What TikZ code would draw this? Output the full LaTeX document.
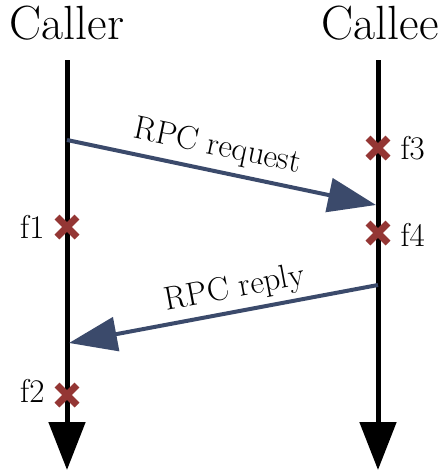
\documentclass[tikz,border=0pt]{standalone}
\usetikzlibrary{arrows.meta,calc}
\newcommand{\failmark}[1]{%
  \draw[fail] ($(#1)+(-10,-10)$) -- ($(#1)+(10,10)$);
  \draw[fail] ($(#1)+(-10,10)$) -- ($(#1)+(10,-10)$);
}

\begin{document}
\begin{tikzpicture}[x=1pt,y=-1pt,
  lifeline/.style={line width=5pt, -{Triangle[length=48pt,width=36pt]}},
  msg/.style={rpcblue, line width=4pt, -{Triangle[length=48pt,width=34pt]}},
  fail/.style={failred, line width=7pt},
  head/.style={inner sep=0pt, font=\fontsize{48}{52}\selectfont},
  lbl/.style={text=black, font=\fontsize{33}{36}\selectfont}]
  \definecolor{rpcblue}{HTML}{3B4A6B}
  \definecolor{failred}{HTML}{943634}
  \useasboundingbox (0,0) rectangle (442,472);

  % the two processes
  \node[head] (caller) at (67,23) {Caller};
  \node[head] (callee) at (380,23) {Callee};
  \coordinate (callerTop) at (67,60);
  \coordinate (callerEnd) at (67,470);
  \coordinate (calleeTop) at (378,60);
  \coordinate (calleeEnd) at (378,470);
  \draw[lifeline] (callerTop) -- (callerEnd);
  \draw[lifeline] (calleeTop) -- (calleeEnd);

  % messages
  \coordinate (reqStart) at (67,140);
  \coordinate (reqEnd) at (376,205);
  \coordinate (repStart) at (378,285);
  \coordinate (repEnd) at (69,343);
  \draw[msg] (reqStart) -- node[lbl, sloped, above=4pt, pos=0.47] (reqText) {RPC request} (reqEnd);
  \draw[msg] (repStart) -- node[lbl, sloped, above=2pt, pos=0.45] (repText) {RPC reply} (repEnd);

  % failure points
  \coordinate (fone) at (67,227);
  \coordinate (ftwo) at (67,395);
  \coordinate (fthree) at (378,148);
  \coordinate (ffour) at (378,233);
  \failmark{fone}
  \failmark{ftwo}
  \failmark{fthree}
  \failmark{ffour}
  \node[lbl, anchor=east] (fonelbl) at ($(fone)+(-19,0)$) {f1};
  \node[lbl, anchor=east] (ftwolbl) at ($(ftwo)+(-19,-4)$) {f2};
  \node[lbl, anchor=west] (fthreelbl) at ($(fthree)+(19,0)$) {f3};
  \node[lbl, anchor=west] (ffourlbl) at ($(ffour)+(19,2)$) {f4};
\end{tikzpicture}
\end{document}
